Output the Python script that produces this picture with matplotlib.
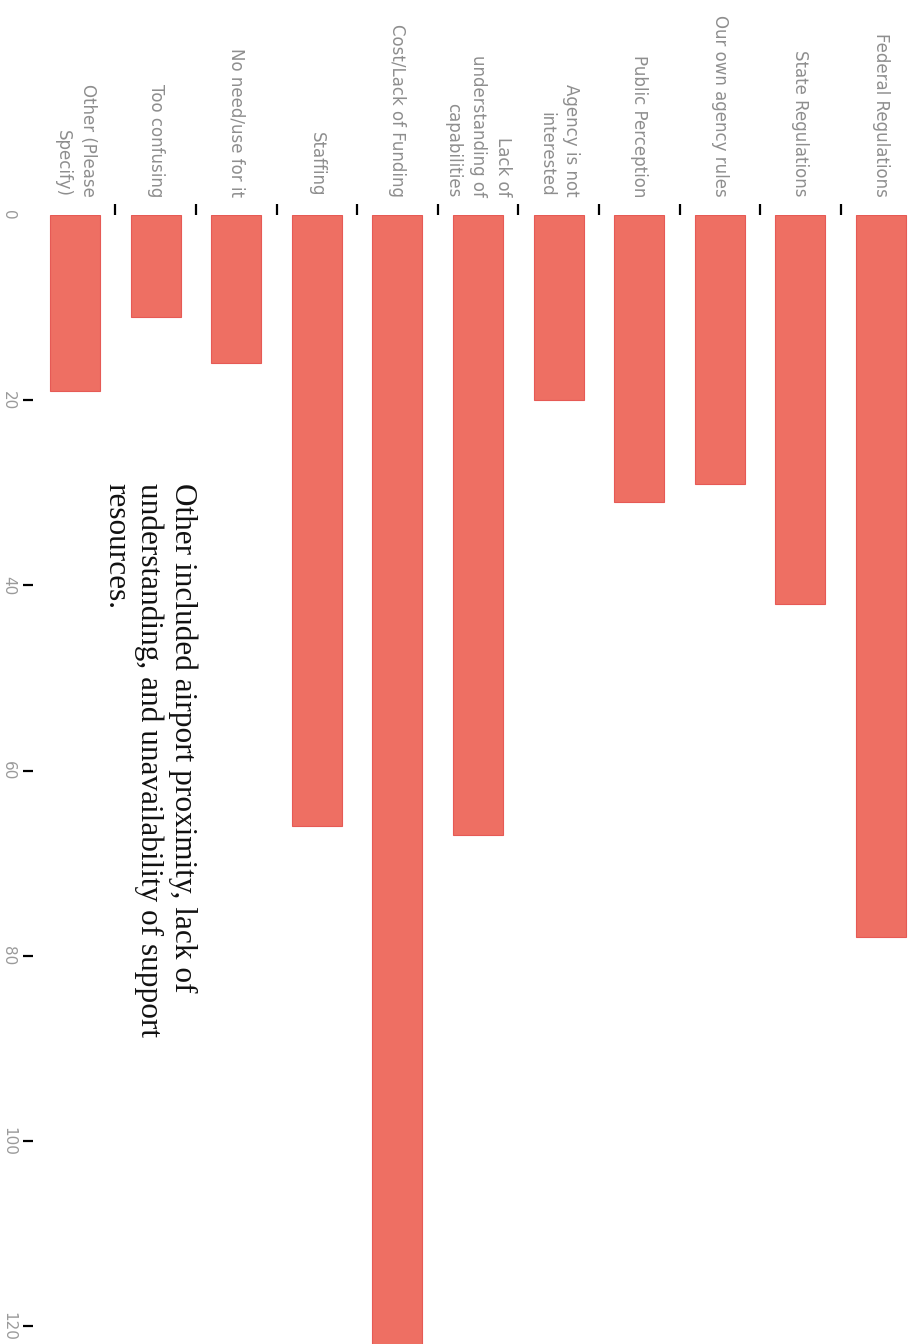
import numpy as np
import matplotlib.pyplot as plt

# Reasons agencies gave for not using the technology (count of responses)
categories = [
    "Other (Please\nSpecify)",
    "Too confusing",
    "No need/use for it",
    "Staffing",
    "Cost/Lack of Funding",
    "Lack of\nunderstanding of\ncapabilities",
    "Agency is not\ninterested",
    "Public Perception",
    "Our own agency rules",
    "State Regulations",
    "Federal Regulations",
]
counts = [19, 11, 16, 66, 125, 67, 20, 31, 29, 42, 78]
value_ticks = [0, 20, 40, 60, 80, 100, 120]

note = ("Other included airport proximity, lack of\n"
        "understanding, and unavailability of support\n"
        "resources.")

W, H = 919, 1344
fig = plt.figure(figsize=(W / 100, H / 100), dpi=100)

# page is turned sideways: categories run across the top, values run down
left_px, top_px = 33, 215
ax = fig.add_axes([left_px / W, 0, 1 - left_px / W, 1 - top_px / H])

x = np.arange(len(categories))
ax.bar(x, counts, width=0.62, color="#ee6f63", edgecolor="#e65a55", linewidth=0.8)

step_px = 80.6
ax.set_xlim((left_px - 75) / step_px, (W - 75) / step_px)
ax.set_ylim((H - top_px) / 9.26, 0)

for s in ax.spines.values():
    s.set_visible(False)

# category names along the top edge
ax.xaxis.tick_top()
ax.set_xticks(x)
ax.set_xticklabels(categories, rotation=-90, ha="center", va="bottom",
                   multialignment="right", fontsize=12, color="#8e8e8e",
                   family="DejaVu Sans", linespacing=1.5)
ax.tick_params(axis="x", which="major", length=0, pad=13)
ax.set_xticks(x[:-1] + 0.5, minor=True)
ax.tick_params(axis="x", which="minor", top=True, bottom=False,
               length=8, width=1.6, color="black", direction="out")

# value scale on the left edge
ax.set_yticks(value_ticks)
ax.set_yticklabels([str(v) for v in value_ticks], rotation=-90,
                   fontsize=11, color="#9a9a9a", va="center")
ax.tick_params(axis="y", length=7, width=1.6, color="black", pad=5)
ax.yaxis.get_major_ticks()[0].tick1line.set_visible(False)

ax.text((197 - 75) / step_px, 28.9, note, rotation=-90, ha="left", va="top",
        rotation_mode="anchor", multialignment="left", fontsize=22.5,
        family="Liberation Serif", color="#111111", linespacing=1.18)

fig.savefig("out.png", dpi=100)
